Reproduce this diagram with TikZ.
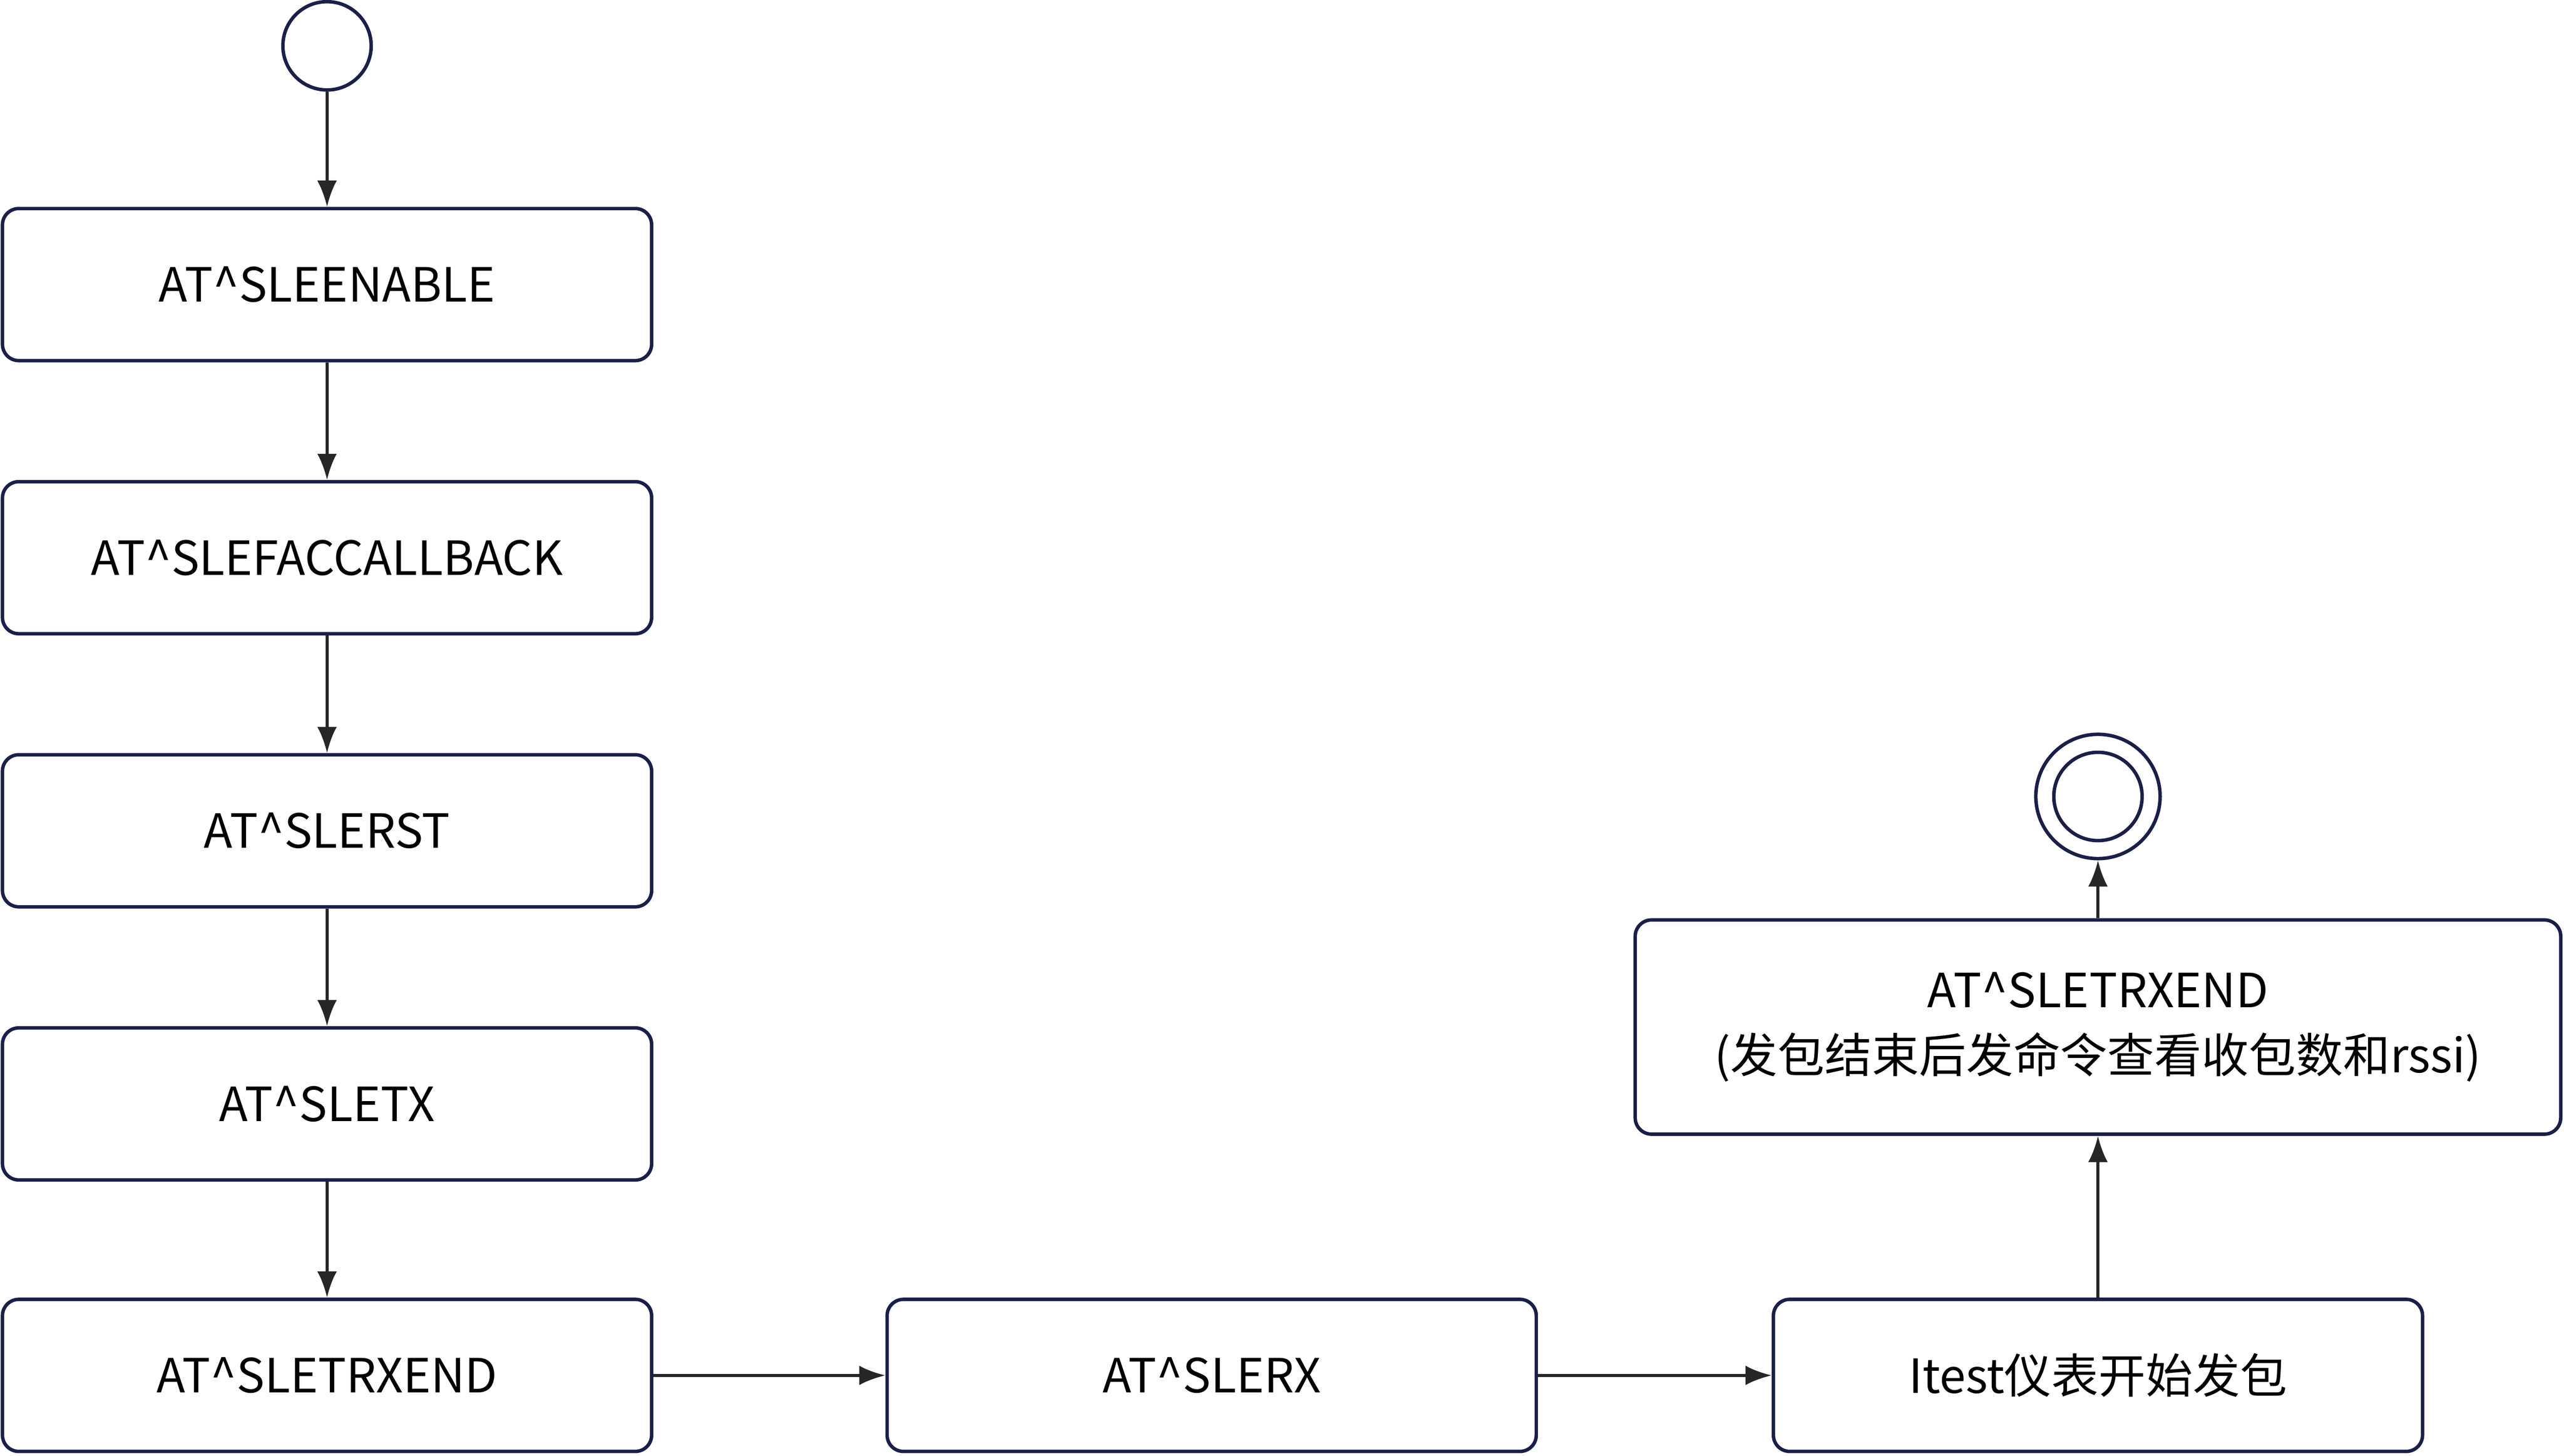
\documentclass[tikz,border=0pt]{standalone}
\usepackage{fontspec}
\setmainfont{Noto Sans CJK SC}
\usetikzlibrary{arrows.meta,positioning}
\definecolor{edge}{HTML}{1A1F4A}
\tikzset{
  cmdbox/.style={draw=edge, line width=0.6pt, rounded corners=1mm, minimum width=39.7mm,
    minimum height=9.3mm, align=center, font=\fontsize{8.2}{11.4}\selectfont},
  flow/.style={-{Latex[length=1.6mm,width=1.2mm]}, line width=0.5pt, draw=black!85}
}
\begin{document}
\begin{tikzpicture}[x=0.1mm,y=-0.1mm]
        \useasboundingbox (0,0) rectangle (1568,890);
        % start and end
        \node[circle, draw=edge, line width=0.6pt, minimum size=5.4mm, inner sep=0] (start) at (200,28) {};
        \node[circle, draw=edge, line width=0.6pt, minimum size=7.6mm, inner sep=0] (stop) at (1283,487) {};
        \node[circle, draw=edge, line width=0.6pt, minimum size=5.4mm, inner sep=0] at (1283,487) {};

        % left column
        \node[cmdbox] (enable) at (200,174) {AT\textasciicircum SLEENABLE};
        \node[cmdbox] (fac) at (200,341) {AT\textasciicircum SLEFACCALLBACK};
        \node[cmdbox] (rst) at (200,508) {AT\textasciicircum SLERST};
        \node[cmdbox] (tx) at (200,675) {AT\textasciicircum SLETX};
        \node[cmdbox] (trx) at (200,841) {AT\textasciicircum SLETRXEND};

        % bottom row
        \node[cmdbox] (rx) at (741,841) {AT\textasciicircum SLERX};
        \node[cmdbox] (itest) at (1283,841) {Itest仪表开始发包};
        \node[cmdbox, minimum width=56.6mm, minimum height=13.1mm] (result) at (1283,628)
            {AT\textasciicircum SLETRXEND\\(发包结束后发命令查看收包数和rssi)};

        % connectors
        \draw[flow] (start) -- (enable);
        \draw[flow] (enable) -- (fac);
        \draw[flow] (fac) -- (rst);
        \draw[flow] (rst) -- (tx);
        \draw[flow] (tx) -- (trx);
        \draw[flow] (trx) -- (rx);
        \draw[flow] (rx) -- (itest);
        \draw[flow] (itest) -- (result);
        \draw[flow] (result) -- (stop);
    \end{tikzpicture}
\end{document}
